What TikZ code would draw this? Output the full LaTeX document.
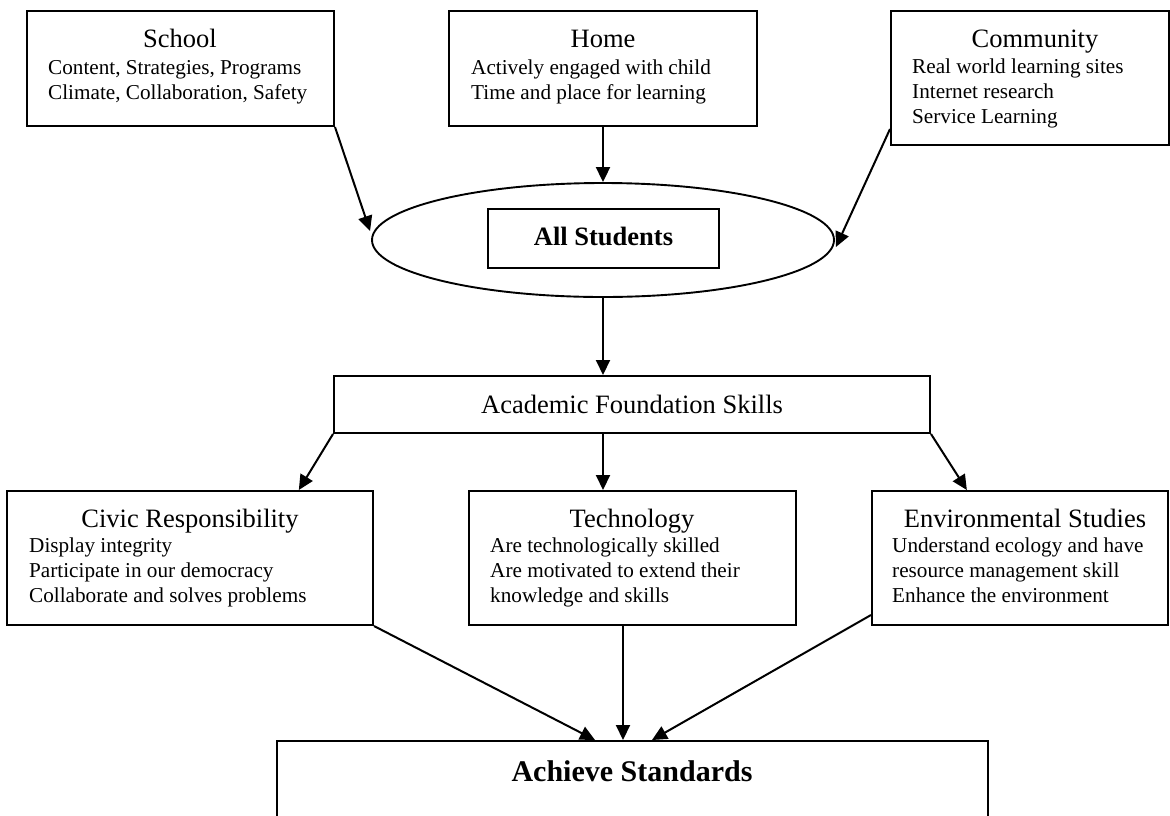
\documentclass[tikz,border=0pt]{standalone}
\usepackage{fontspec}
\setmainfont{Liberation Serif}
\usetikzlibrary{shapes.geometric,arrows.meta,calc}
\tikzset{
  box/.style={draw, line width=2pt, inner sep=0pt, rectangle},
  ttl/.style={font=\fontsize{26.5}{30}\selectfont, anchor=base, inner sep=0pt},
  body/.style={font=\fontsize{21.2}{25}\selectfont, anchor=base west, inner sep=0pt},
  arr/.style={line width=2pt, -{Triangle[length=15pt,width=14pt]}}
}
\begin{document}
\begin{tikzpicture}[x=1pt,y=-1pt]
\useasboundingbox (0,0) rectangle (1170,815);
% top row
\node[box, minimum width=307pt, minimum height=115pt] (school) at (180.5,68.5) {};
\node[ttl] (schoolT) at (180,47) {School};
\node[body] (school1) at (48,74) {Content, Strategies, Programs};
\node[body] (school2) at (48,99) {Climate, Collaboration, Safety};

\node[box, minimum width=308pt, minimum height=115pt] (home) at (603,68.5) {};
\node[ttl] (homeT) at (603,47) {Home};
\node[body] (home1) at (471,74) {Actively engaged with child};
\node[body] (home2) at (471,99) {Time and place for learning};

\node[box, minimum width=278pt, minimum height=134pt] (comm) at (1030,78) {};
\node[ttl] (commT) at (1035,47) {Community};
\node[body] (comm1) at (912,73) {Real world learning sites};
\node[body] (comm2) at (912,98) {Internet research};
\node[body] (comm3) at (912,123) {Service Learning};

% ellipse
\node[draw, ellipse, line width=1.9pt, inner sep=0pt, minimum width=462pt, minimum height=114pt] (ell) at (603,240) {};
\node[box, minimum width=231pt, minimum height=59pt] (all) at (603.5,238.5) {};
\node[font=\fontsize{26.5}{30}\selectfont\bfseries, anchor=base, inner sep=0pt] (allT) at (603.5,245) {All Students};

% academic foundation
\node[box, minimum width=596pt, minimum height=57pt, font=\fontsize{26.5}{30}\selectfont] (afs) at (632,404.5) {Academic Foundation Skills};

% second row
\node[box, minimum width=366pt, minimum height=134pt] (civic) at (190,558) {};
\node[ttl] (civicT) at (190,527) {Civic Responsibility};
\node[body] (civic1) at (29,552) {Display integrity};
\node[body] (civic2) at (29,577) {Participate in our democracy};
\node[body] (civic3) at (29,602) {Collaborate and solves problems};

\node[box, minimum width=327pt, minimum height=134pt] (tech) at (632.5,558) {};
\node[ttl] (techT) at (632,527) {Technology};
\node[body] (tech1) at (490,552) {Are technologically skilled};
\node[body] (tech2) at (490,577) {Are motivated to extend their};
\node[body] (tech3) at (490,602) {knowledge and skills};

\node[box, minimum width=296pt, minimum height=134pt] (env) at (1020,558) {};
\node[ttl] (envT) at (1025,527) {Environmental Studies};
\node[body] (env1) at (892,552) {Understand ecology and have};
\node[body] (env2) at (892,577) {resource management skill};
\node[body] (env3) at (892,602) {Enhance the environment};

% achieve
\node[box, minimum width=711pt, minimum height=120pt] (ach) at (632.5,801) {};
\node[font=\fontsize{30}{34}\selectfont\bfseries, anchor=base, inner sep=0pt] (achT) at (632,781) {Achieve Standards};

% connectors
\draw[arr] (school.south east) -- ($(ell.west)+(-1,-9)$);
\draw[arr] (home.south) -- (ell.north);
\draw[arr] ($(comm.south west)+(0,-17)$) -- ($(ell.east)+(1,7)$);
\draw[arr] (ell.south) -- (ell.south |- afs.north);
\draw[arr] (afs.south west) -- (civic.32);
\draw[arr] (ell.south |- afs.south) -- (ell.south |- tech.north);
\draw[arr] (afs.south east) -- (env.128);
\draw[arr] (civic.south east) -- ($(ach.north)+(-37.5,0)$);
\draw[arr] ($(tech.south)+(-9.5,0)$) -- ($(ach.north)+(-9.5,0)$);
\draw[arr] ($(env.south west)+(0,-11)$) -- ($(ach.north)+(19.5,0)$);
\end{tikzpicture}
\end{document}
